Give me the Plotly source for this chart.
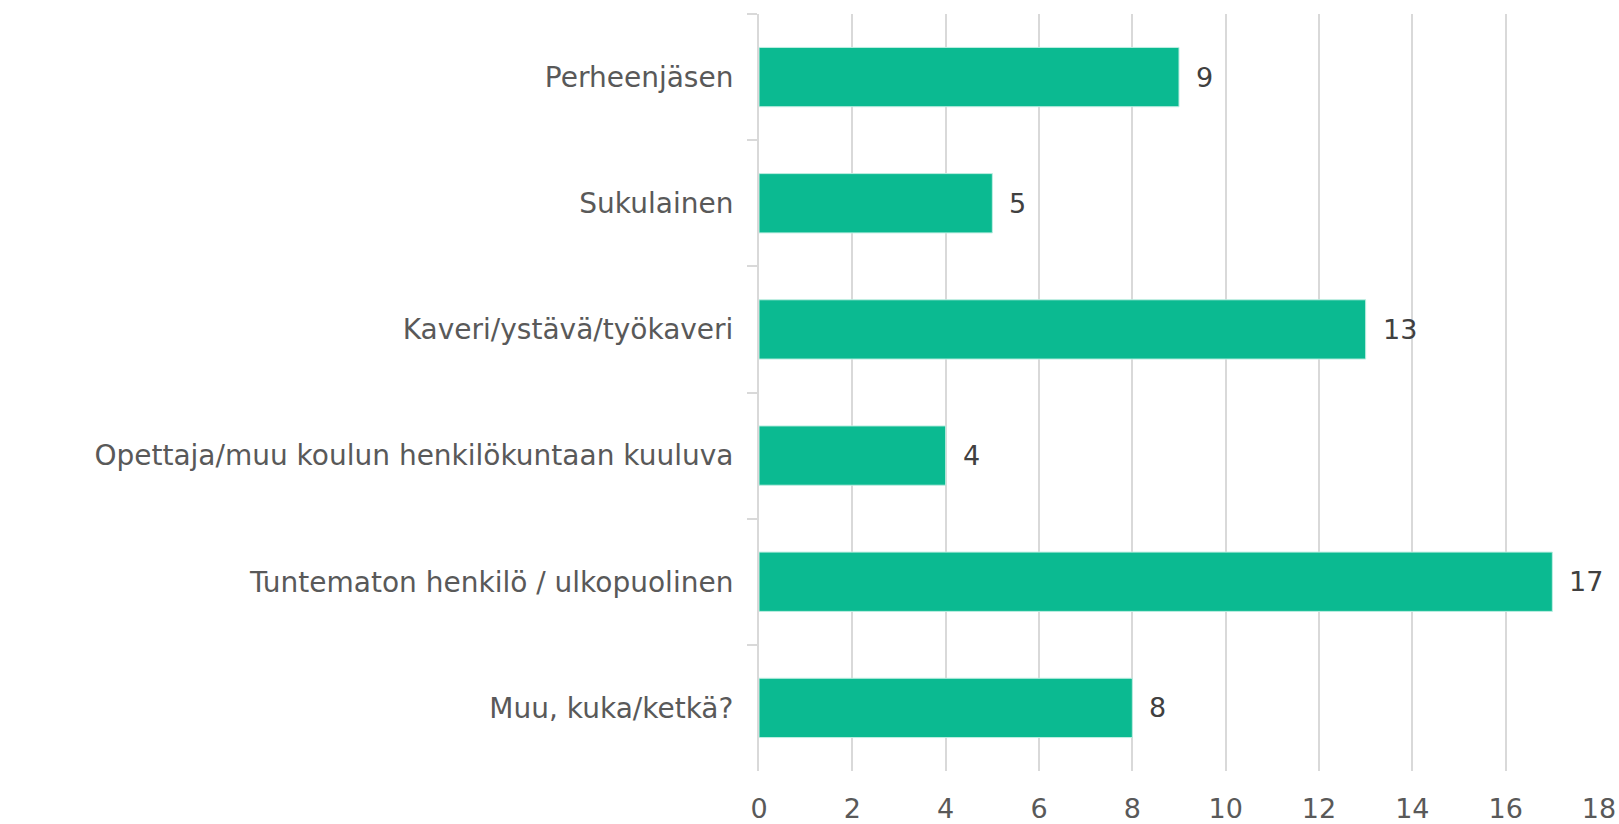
import plotly.graph_objects as go

categories = ["Perheenjäsen", "Sukulainen", "Kaveri/ystävä/työkaveri",
              "Opettaja/muu koulun henkilökuntaan kuuluva",
              "Tuntematon henkilö / ulkopuolinen", "Muu, kuka/ketkä?"]
values = [9, 5, 13, 4, 17, 8]
x_ticks = [0, 2, 4, 6, 8, 10, 12, 14, 16, 18]

FONT = "DejaVu Sans"
BAR = "#0BBA91"
GRID = "#d9d9d9"

fig = go.Figure()
fig.add_trace(go.Bar(
    y=categories, x=values, orientation="h",
    marker=dict(color=BAR, line=dict(color="#bfeee2", width=1)),
    width=0.47, hoverinfo="skip",
))
for c, v in zip(categories, values):
    fig.add_annotation(x=v, y=c, text=str(v), showarrow=False,
                       xanchor="left", xshift=15,
                       font=dict(family=FONT, size=27, color="#404040"))

fig.update_layout(
    width=1619, height=824,
    margin=dict(l=759, r=20, t=14, b=53, autoexpand=False),
    paper_bgcolor="white", plot_bgcolor="white",
    showlegend=False,
    font=dict(family=FONT, size=27, color="#595959"),
)
fig.update_xaxes(range=[0, 18], tickvals=x_ticks, showgrid=True,
                 gridcolor=GRID, gridwidth=2, zeroline=False,
                 showline=False, ticks="", ticklabelstandoff=19,
                 automargin=False,
                 tickfont=dict(family=FONT, size=27, color="#595959"))
fig.update_yaxes(categoryorder="array", categoryarray=categories,
                 autorange="reversed", showline=True, linecolor=GRID,
                 linewidth=2, ticks="outside", tickson="boundaries",
                 ticklen=10, tickcolor=GRID, tickwidth=2, automargin=False,
                 showgrid=False, ticklabelstandoff=18,
                 tickfont=dict(family=FONT, size=28, color="#595959"))

fig.write_html("out.html")
